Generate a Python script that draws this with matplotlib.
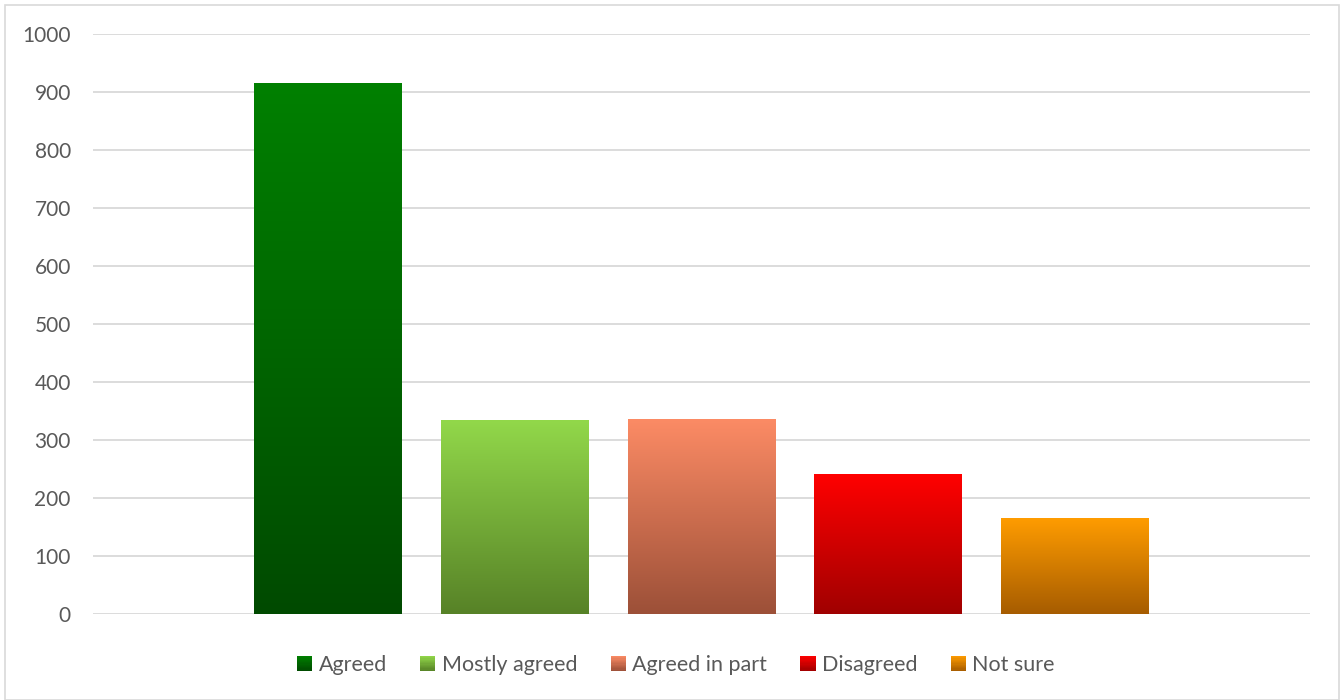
import matplotlib
matplotlib.use("Agg")
import matplotlib.pyplot as plt
import numpy as np
from matplotlib.colors import LinearSegmentedColormap, to_rgb
from matplotlib.patches import Rectangle
from matplotlib.legend_handler import HandlerBase

categories = ["Agreed", "Mostly agreed", "Agreed in part", "Disagreed", "Not sure"]
values = [914, 333, 335, 240, 164]
top_colors = ["#008000", "#92d84a", "#fc8b65", "#ff0000", "#ff9c00"]
bottom_colors = ["#004a00", "#578227", "#9c5038", "#a00000", "#a65c00"]
yticks = [0, 100, 200, 300, 400, 500, 600, 700, 800, 900, 1000]

plt.rcParams['font.family'] = ['Lato', 'DejaVu Sans']

fig = plt.figure(figsize=(13.41, 7.0), dpi=100)
fig.patches.append(Rectangle((5/1341, 0.0), (1339-5)/1341, (695)/700, transform=fig.transFigure,
                             fill=False, edgecolor="#d9d9d9", linewidth=1.2))
ax = fig.add_axes([93/1341, 1-614/700, (1310-93)/1341, (614-34)/700])

x = np.arange(len(categories))
width = 148/187
bars = ax.bar(x, values, width=width, color="none", edgecolor="none", zorder=2)
grad = np.linspace(0, 1, 256).reshape(-1, 1)
for b, tc, bc in zip(bars, top_colors, bottom_colors):
    cmap = LinearSegmentedColormap.from_list("g", [bc, tc])
    x0 = b.get_x(); w = b.get_width(); h = b.get_height()
    ax.imshow(grad, cmap=cmap, origin="lower", aspect="auto",
              extent=(x0, x0 + w, 0, h), zorder=3, interpolation="bilinear")

ax.set_xlim(-1.257, 5.257)
ax.set_ylim(0, 1000)
ax.set_yticks(yticks)
ax.set_yticklabels([str(t) for t in yticks], fontsize=15, color="#595959")
ax.set_xticks([])
ax.tick_params(axis="y", length=0, pad=16)
for s in ax.spines.values():
    s.set_visible(False)
ax.grid(axis="y", color="#d9d9d9", linewidth=1.3, zorder=0)
ax.set_axisbelow(True)


class GradHandle:
    def __init__(self, top, bottom):
        self.top = top
        self.bottom = bottom


class HandlerGrad(HandlerBase):
    def create_artists(self, legend, orig_handle, xdescent, ydescent, width, height, fontsize, trans):
        n = 12
        t = np.array(to_rgb(orig_handle.top)); b = np.array(to_rgb(orig_handle.bottom))
        arts = []
        for i in range(n):
            f = (i + 0.5) / n
            c = tuple(b + (t - b) * f)
            r = Rectangle((-xdescent, -ydescent + height * i / n), width, height / n + 0.3,
                          facecolor=c, edgecolor="none", transform=trans)
            arts.append(r)
        return arts


handles = [GradHandle(tc, bc) for tc, bc in zip(top_colors, bottom_colors)]
leg = fig.legend(handles, categories, loc="center", bbox_to_anchor=(676/1341, 1-665/700),
                 ncol=5, frameon=False, fontsize=15.5, handlelength=0.7, handleheight=0.7,
                 handletextpad=0.3, columnspacing=1.55, labelcolor="#595959",
                 handler_map={GradHandle: HandlerGrad()})

fig.savefig("out.png", dpi=100)
